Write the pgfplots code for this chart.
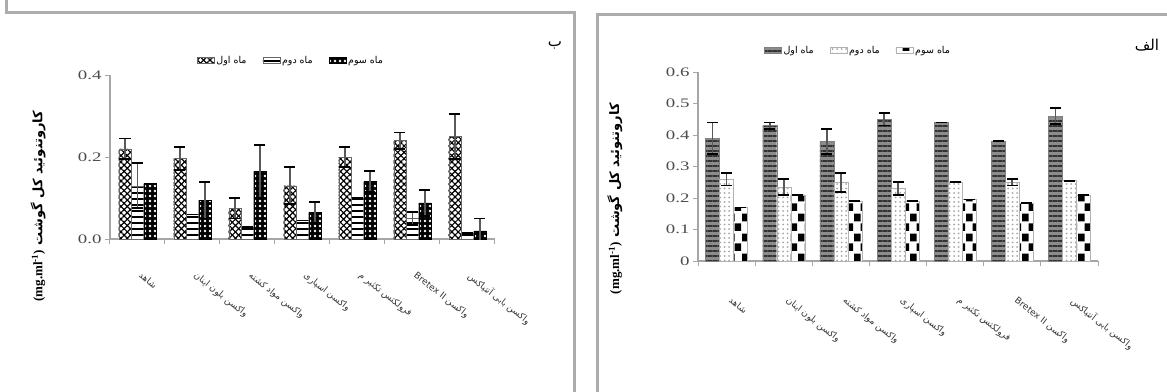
\documentclass[border=0pt]{standalone}
\usepackage{fontspec}
\setmainfont{Liberation Serif}
\newfontfamily\ar[Script=Arabic]{DejaVu Sans}
\usepackage{graphicx}
\usepackage{pgfplots}
\usepackage{pgfplotstable}
\pgfplotsset{compat=1.18}
\usetikzlibrary{patterns,patterns.meta}
\TeXXeTstate=1

\pgfdeclarepatternformonly{bigcheck}{\pgfqpoint{0pt}{0pt}}{\pgfqpoint{14pt}{20pt}}{\pgfqpoint{14pt}{20pt}}{%
  \pgfpathrectangle{\pgfqpoint{7pt}{0pt}}{\pgfqpoint{7pt}{8pt}}%
  \pgfpathrectangle{\pgfqpoint{0pt}{10pt}}{\pgfqpoint{7pt}{8pt}}%
  \pgfusepath{fill}}

\pgfplotstableread{
x   m1    e1    m2    e2    m3    e3
0.5 0.220 0.025 0.130 0.055 0.135 0.000
1.5 0.197 0.028 0.060 0.000 0.095 0.045
2.5 0.075 0.025 0.030 0.000 0.165 0.065
3.5 0.130 0.045 0.045 0.000 0.065 0.025
4.5 0.200 0.025 0.100 0.000 0.140 0.025
5.5 0.240 0.020 0.050 0.015 0.088 0.032
6.5 0.250 0.055 0.015 0.000 0.020 0.030
}\lefttab

\pgfplotstableread{
x   m1    e1    m2    e2    m3    e3
0.5 0.390 0.050 0.260 0.020 0.170 0.000
1.5 0.430 0.010 0.235 0.025 0.210 0.000
2.5 0.380 0.040 0.250 0.030 0.190 0.000
3.5 0.450 0.020 0.230 0.020 0.190 0.000
4.5 0.440 0.000 0.250 0.000 0.195 0.000
5.5 0.380 0.000 0.250 0.010 0.185 0.000
6.5 0.460 0.025 0.255 0.000 0.210 0.000
}\righttab

\newcommand{\ylab}{\beginR کاروتنوئید کل گوشت \beginL{\rmfamily\bfseries (mg.ml\textsuperscript{-1})}\endL\endR}

\pgfplotsset{
  common/.style={
    scale only axis,
    anchor=south west,
    xmin=0, xmax=7,
    ymin=0,
    axis x line*=bottom,
    axis y line*=left,
    axis line style={gray!70, line width=1.6pt},
    tick align=outside,
    xtick={0.5,1.5,...,6.5},
    minor xtick={0,1,...,7},
    major x tick style={draw=none},
    minor x tick style={gray!70, line width=1pt},
    major y tick style={gray!70, line width=1pt},
    major tick length=5pt,
    minor tick length=5pt,
    ybar=0pt,
    area legend,
    /pgf/number format/assume math mode=true,
    yticklabel style={font=\fontsize{13}{13}\selectfont, color=black!70},
    ylabel style={font=\ar\bfseries\fontsize{13}{13}\selectfont, anchor=center, rotate=0},
    legend style={draw=none, fill=none, font=\ar\fontsize{9.5}{10}\selectfont, anchor=center,
      /tikz/every even column/.append style={column sep=14pt}},
    legend columns=3,
    error bars/y dir=both,
    error bars/y explicit,
    error bars/error bar style={line width=1.6pt, black!65},
    error bars/error mark options={rotate=90, mark size=5.5pt, line width=1.8pt, black},
    xticklabels={
      {\beginR شاهد\endR},
      {\beginR واکسن بلون اینان\endR},
      {\beginR واکسن مواد کشته\endR},
      {\beginR واکسن اسپاری\endR},
      {\beginR فرولکتس تکثیر م\endR},
      {\beginR واکسن \beginL Bretex II\endL\endR},
      {\beginR واکسن بابی آنتیاکس\endR}
    },
  }
}

\begin{document}
\begin{tikzpicture}
\path[use as bounding box, fill=white] (0pt,0pt) rectangle (1167pt,391pt);

% panel frames
\draw[gray!65, line width=3pt] (6.5pt,400pt) -- (6.5pt,378.5pt) -- (574pt,378.5pt) -- (574pt,-10pt);
\draw[gray!65, line width=3pt] (597pt,-10pt) -- (597pt,376pt) -- (1180pt,376pt);

\node[font=\ar\fontsize{15}{15}\selectfont] at (555pt,346pt) {\beginR ب\endR};
\node[font=\ar\fontsize{15}{15}\selectfont] at (1147pt,346pt) {\beginR الف\endR};

% left chart
\begin{axis}[common,
  at={(110pt,152pt)}, width=385pt, height=164pt,
  ymax=0.4, ytick={0,0.2,0.4},
  yticklabel={\scalebox{1.45}[1]{\pgfmathprintnumber[fixed,fixed zerofill,precision=1]{\tick}}},
  xticklabel style={yshift=-27pt, xshift=5pt, rotate=-38, anchor=north west, font=\ar\fontsize{9}{10}\selectfont, inner sep=0pt, color=black!80},
  bar width=12.5pt,
  ylabel={\ylab},
  ylabel style={at={(axis description cs:-0.187,0.2)}},
  legend style={at={(axis description cs:0.47,1.09)}},
]
\addplot[fill=white, draw=black!60,
  postaction={pattern={Lines[angle=45,distance=4.5pt,line width=1.2pt]}},
  postaction={pattern={Lines[angle=-45,distance=4.5pt,line width=1.2pt]}}]
  table[x=x, y=m1, y error=e1] {\lefttab};
\addplot[fill=white, draw=black!60,
  postaction={pattern={Lines[angle=0,distance=6pt,line width=1.6pt]}}]
  table[x=x, y=m2, y error=e2] {\lefttab};
\addplot[fill=black, draw=black,
  postaction={pattern={Dots[distance=5pt,radius=1.3pt]}, pattern color=white}]
  table[x=x, y=m3, y error=e3] {\lefttab};
\addlegendentry{\beginR ماه اول\endR}
\addlegendentry{\beginR ماه دوم\endR}
\addlegendentry{\beginR ماه سوم\endR}
\end{axis}

% right chart
\begin{axis}[common,
  at={(698pt,130pt)}, width=400pt, height=189pt,
  ymax=0.6, ytick={0,0.1,...,0.6},
  yticklabel={\scalebox{1.45}[1]{\pgfmathprintnumber{\tick}}},
  xticklabel style={yshift=-30pt, xshift=6pt, rotate=-38, anchor=north west, font=\ar\fontsize{9}{10}\selectfont, inner sep=0pt, color=black!80},
  bar width=14pt,
  ylabel={\ylab},
  ylabel style={at={(axis description cs:-0.208,0.33)}},
  legend style={at={(axis description cs:0.40,1.115)}},
]
\addplot[fill=black!45, draw=black!50,
  postaction={pattern={Lines[angle=0,distance=5pt,line width=2.2pt]}, pattern color=black!80}]
  table[x=x, y=m1, y error=e1] {\righttab};
\addplot[fill=white, draw=gray!60,
  postaction={pattern={Dots[distance=4.5pt,radius=1pt]}, pattern color=gray!70}]
  table[x=x, y=m2, y error=e2] {\righttab};
\addplot[fill=white, draw=gray!60,
  postaction={pattern=bigcheck, pattern color=black}]
  table[x=x, y=m3, y error=e3] {\righttab};
\addlegendentry{\beginR ماه اول\endR}
\addlegendentry{\beginR ماه دوم\endR}
\addlegendentry{\beginR ماه سوم\endR}
\end{axis}
\end{tikzpicture}
\end{document}
